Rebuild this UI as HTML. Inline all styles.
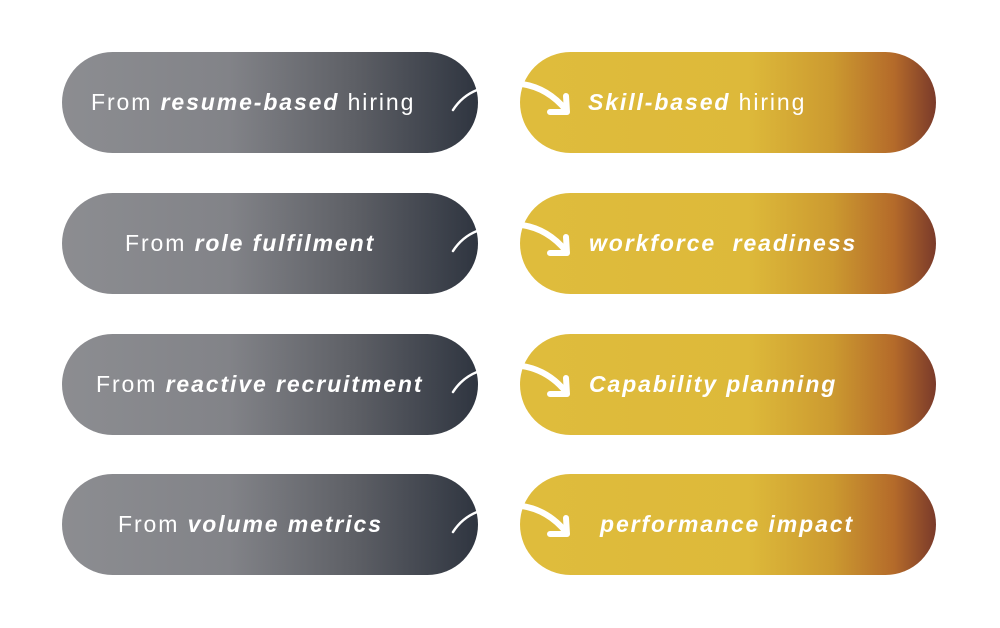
<!DOCTYPE html>
<html><head><style>
body{margin:0;width:1000px;height:628px;background:#fff;position:relative;overflow:hidden;font-family:"Liberation Sans",sans-serif}
.p{position:absolute;height:101px;border-radius:51px}
.l{left:62px;width:416px;background:linear-gradient(90deg,#8c8d91 0%,#828388 40%,#5e6066 70%,#2f3540 100%)}
.r{left:520px;width:416px;background:linear-gradient(90deg,#dfbc3c 0%,#ddb93a 55%,#cc9a30 75%,#b46a2a 90%,#7a3a2a 100%)}
.t{position:absolute;color:#fff;font-size:23px;letter-spacing:1.9px;white-space:nowrap;line-height:26px}
b{font-style:italic;font-weight:bold}
svg{position:absolute;left:0;top:0}
</style></head><body>
<div class="p l" style="top:52px"></div><div class="p r" style="top:52px"></div>
<div class="p l" style="top:193px"></div><div class="p r" style="top:193px"></div>
<div class="p l" style="top:334px"></div><div class="p r" style="top:334px"></div>
<div class="p l" style="top:474px"></div><div class="p r" style="top:474px"></div>
<div class="t" style="left:91px;top:89px">From <b>resume-based</b> hiring</div>
<div class="t" style="left:588px;top:89px"><b>Skill-based</b> hiring</div>
<div class="t" style="left:125px;top:230px">From <b>role fulfilment</b></div>
<div class="t" style="left:589px;top:230px"><b>workforce&nbsp; readiness</b></div>
<div class="t" style="left:96px;top:371px">From <b>reactive recruitment</b></div>
<div class="t" style="left:589px;top:371px"><b>Capability planning</b></div>
<div class="t" style="left:118px;top:511px">From <b>volume metrics</b></div>
<div class="t" style="left:600px;top:511px"><b>performance impact</b></div>
<svg width="1000" height="628">
<g fill="none" stroke="#fff" stroke-linecap="round" stroke-linejoin="round">
<g id="a">
<path d="M453 110 Q462 96 477 90" stroke-width="2.5"/>
<path d="M522 84 Q548 88 566 110" stroke-width="6"/>
<path d="M566 96 L567 112 L550 112" stroke-width="6"/>
</g>
<use href="#a" y="141"/>
<use href="#a" y="282"/>
<use href="#a" y="422"/>
</g>
</svg>
</body></html>
